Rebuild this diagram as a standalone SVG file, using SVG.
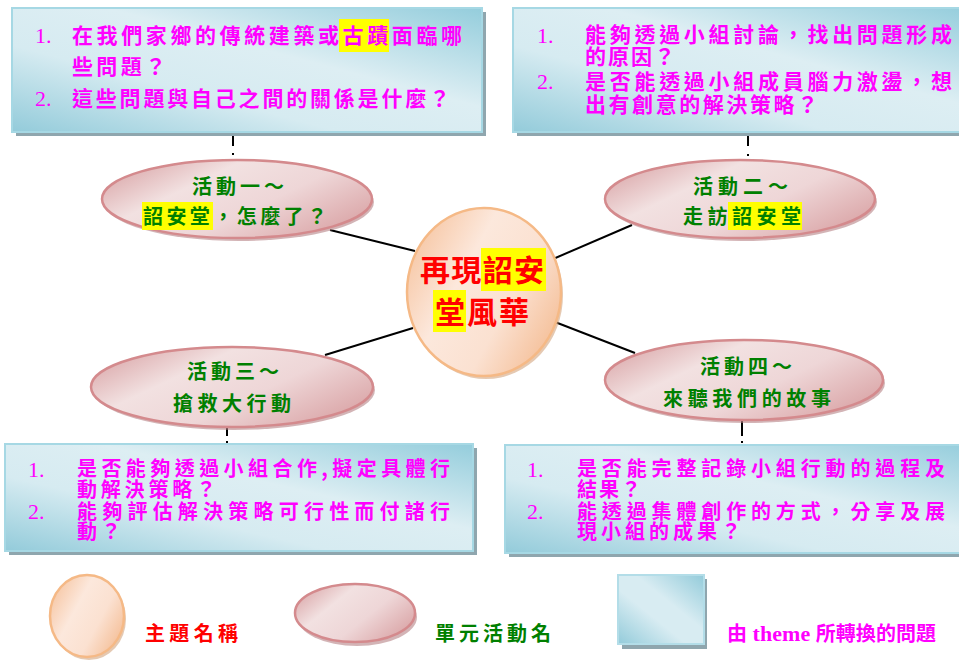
<svg xmlns="http://www.w3.org/2000/svg" width="959" height="660" viewBox="0 0 959 660">
<defs>
<linearGradient id="boxG" x1="0" y1="1" x2="1" y2="0">
<stop offset="0" stop-color="#93cbda"/>
<stop offset="0.35" stop-color="#d6ebf1"/>
<stop offset="0.6" stop-color="#ddeef3"/>
<stop offset="1" stop-color="#94cddc"/>
</linearGradient>
<linearGradient id="sqG" x1="0" y1="1" x2="1" y2="0">
<stop offset="0" stop-color="#93cbda"/>
<stop offset="0.4" stop-color="#d8ecf2"/>
<stop offset="0.6" stop-color="#d8ecf2"/>
<stop offset="1" stop-color="#93cbda"/>
</linearGradient>
<linearGradient id="pinkG" x1="0" y1="0.2" x2="1" y2="0.8">
<stop offset="0" stop-color="#dba9ab"/>
<stop offset="0.3" stop-color="#f2e1e1"/>
<stop offset="0.6" stop-color="#eed6d7"/>
<stop offset="1" stop-color="#d9a2a4"/>
</linearGradient>
<linearGradient id="orG" x1="0" y1="0.2" x2="1" y2="0.8">
<stop offset="0" stop-color="#f6c4a0"/>
<stop offset="0.35" stop-color="#fce8dc"/>
<stop offset="0.65" stop-color="#fbe1d1"/>
<stop offset="1" stop-color="#f4bc93"/>
</linearGradient>
<style>
.box{fill:url(#boxG);stroke:#a6d8e4;stroke-width:2}
.bsh{fill:#8fa6ae}
.ell{fill:url(#pinkG);stroke:#d48a8d;stroke-width:2.5}
.esh{fill:#b58285;opacity:0.6}
.ctr{fill:url(#orG);stroke:#f5b986;stroke-width:2.5}
.csh{fill:#d4a57f;opacity:0.6}
.q{font-family:"Noto Sans CJK TC","Noto Sans CJK SC",sans-serif;font-size:21px;font-weight:bold;fill:#ff00ff}
.qs{font-family:"Noto Sans CJK TC","Noto Sans CJK SC",sans-serif;font-size:20px;font-weight:bold;fill:#ff00ff}
.n{font-family:"Liberation Serif",serif;font-size:22px;fill:#ff00ff}
.g{font-family:"Noto Sans CJK TC","Noto Sans CJK SC",sans-serif;font-size:20px;font-weight:bold;fill:#008000}
.r{font-family:"Noto Sans CJK TC","Noto Sans CJK SC",sans-serif;font-size:30px;font-weight:bold;fill:#ff0000}
.lr{font-family:"Noto Sans CJK TC","Noto Sans CJK SC",sans-serif;font-size:20px;font-weight:bold;fill:#ff0000}
.lm{font-family:"Noto Sans CJK TC","Noto Sans CJK SC",sans-serif;font-size:20px;font-weight:bold;fill:#ff00ff}
.hl{fill:#ffff00}
.ln{stroke:#000;stroke-width:2;fill:none}
</style>
</defs>
<rect width="959" height="660" fill="#ffffff"/>

<g id="connectors">
<line class="ln" x1="330" y1="230" x2="415" y2="251"/>
<line class="ln" x1="553" y1="259" x2="632" y2="225"/>
<line class="ln" x1="325" y1="355" x2="413" y2="328"/>
<line class="ln" x1="555" y1="322" x2="635" y2="353"/>
<line class="ln" x1="233" y1="133" x2="233" y2="146"/>
<rect x="232" y="153" width="2" height="2" fill="#000"/>
<line class="ln" x1="748" y1="133" x2="748" y2="146"/>
<rect x="747" y="154" width="2" height="2" fill="#000"/>
<line class="ln" x1="227" y1="428" x2="227" y2="436"/>
<rect x="226" y="441" width="2" height="2" fill="#000"/>
<line class="ln" x1="742" y1="420" x2="742" y2="436"/>
<rect x="741" y="441" width="2" height="2" fill="#000"/>
</g>

<g id="q1">
<rect class="bsh" x="16" y="12" width="470" height="124"/>
<rect class="box" x="12" y="8" width="470" height="124"/>
<rect class="hl" x="339" y="19" width="50" height="33"/>
<text class="n" x="35" y="43">1.</text>
<text class="q" x="72" y="43" textLength="390" lengthAdjust="spacing">在我們家鄉的傳統建築或古蹟面臨哪</text>
<text class="q" x="72" y="74" textLength="94" lengthAdjust="spacing">些問題？</text>
<text class="n" x="35" y="106">2.</text>
<text class="q" x="72" y="106" textLength="378" lengthAdjust="spacing">這些問題與自己之間的關係是什麼？</text>
</g>

<g id="q2">
<rect class="bsh" x="517" y="12" width="460" height="124"/>
<rect class="box" x="513" y="8" width="460" height="124"/>
<text class="n" x="537" y="43">1.</text>
<text class="q" x="585" y="42" textLength="367" lengthAdjust="spacing">能夠透過小組討論，找出問題形成</text>
<text class="q" x="585" y="64" textLength="90" lengthAdjust="spacing">的原因？</text>
<text class="n" x="537" y="89">2.</text>
<text class="q" x="585" y="89" textLength="367" lengthAdjust="spacing">是否能透過小組成員腦力激盪，想</text>
<text class="q" x="585" y="112" textLength="233" lengthAdjust="spacing">出有創意的解決策略？</text>
</g>

<g id="q3">
<rect class="bsh" x="9" y="448" width="468" height="107"/>
<rect class="box" x="5" y="444" width="468" height="107"/>
<text class="n" x="28" y="477">1.</text>
<text class="qs" x="77" y="476" textLength="373" lengthAdjust="spacing">是否能夠透過小組合作,擬定具體行</text>
<text class="qs" x="77" y="497" textLength="139" lengthAdjust="spacing">動解決策略？</text>
<text class="n" x="28" y="519">2.</text>
<text class="qs" x="77" y="519" textLength="373" lengthAdjust="spacing">能夠評估解決策略可行性而付諸行</text>
<text class="qs" x="77" y="539" textLength="44" lengthAdjust="spacing">動？</text>
</g>

<g id="q4">
<rect class="bsh" x="509" y="449" width="470" height="108"/>
<rect class="box" x="505" y="445" width="470" height="108"/>
<text class="n" x="527" y="477">1.</text>
<text class="qs" x="577" y="476" textLength="368" lengthAdjust="spacing">是否能完整記錄小組行動的過程及</text>
<text class="qs" x="577" y="497" textLength="64" lengthAdjust="spacing">結果？</text>
<text class="n" x="527" y="519">2.</text>
<text class="qs" x="577" y="519" textLength="368" lengthAdjust="spacing">能透過集體創作的方式，分享及展</text>
<text class="qs" x="577" y="539" textLength="164" lengthAdjust="spacing">現小組的成果？</text>
</g>

<g id="a1">
<ellipse class="esh" cx="239" cy="202" rx="135" ry="39"/>
<ellipse class="ell" cx="237" cy="199" rx="135" ry="39"/>
<rect class="hl" x="142" y="202" width="71" height="28"/>
<text class="g" x="192" y="194" textLength="92" lengthAdjust="spacing">活動一～</text>
<text class="g" x="143" y="224" textLength="184" lengthAdjust="spacing">詔安堂，怎麼了？</text>
</g>

<g id="a2">
<ellipse class="esh" cx="742" cy="202" rx="135" ry="39"/>
<ellipse class="ell" cx="740" cy="199" rx="135" ry="39"/>
<rect class="hl" x="728" y="202" width="74" height="28"/>
<text class="g" x="693" y="194" textLength="95" lengthAdjust="spacing">活動二～</text>
<text class="g" x="683" y="224" textLength="118" lengthAdjust="spacing">走訪詔安堂</text>
</g>

<g id="a3">
<ellipse class="esh" cx="234" cy="390" rx="141" ry="40"/>
<ellipse class="ell" cx="232" cy="387" rx="141" ry="40"/>
<text class="g" x="187" y="379" textLength="92" lengthAdjust="spacing">活動三～</text>
<text class="g" x="173" y="411" textLength="118" lengthAdjust="spacing">搶救大行動</text>
</g>

<g id="a4">
<ellipse class="esh" cx="746" cy="383" rx="139" ry="40"/>
<ellipse class="ell" cx="744" cy="380" rx="139" ry="40"/>
<text class="g" x="700" y="374" textLength="92" lengthAdjust="spacing">活動四～</text>
<text class="g" x="663" y="406" textLength="168" lengthAdjust="spacing">來聽我們的故事</text>
</g>

<g id="theme">
<ellipse class="csh" cx="486" cy="295" rx="77" ry="84"/>
<ellipse class="ctr" cx="484" cy="292" rx="77" ry="84"/>
<rect class="hl" x="481" y="248" width="65" height="43"/>
<rect class="hl" x="433" y="290" width="33" height="42"/>
<text class="r" x="420" y="281" textLength="124" lengthAdjust="spacing">再現詔安</text>
<text class="r" x="435" y="323" textLength="94" lengthAdjust="spacing">堂風華</text>
</g>

<g id="legend">
<ellipse class="csh" cx="89" cy="619" rx="37" ry="41"/>
<ellipse class="ctr" cx="87" cy="616" rx="37" ry="41"/>
<text class="lr" x="145" y="641" textLength="93" lengthAdjust="spacing">主題名稱</text>
<ellipse class="esh" cx="357" cy="617" rx="60" ry="29"/>
<ellipse class="ell" cx="355" cy="613" rx="60" ry="29"/>
<text class="g" x="435" y="641" textLength="116" lengthAdjust="spacing">單元活動名</text>
<rect class="bsh" x="622" y="579" width="85" height="70"/>
<rect fill="url(#sqG)" stroke="#b3dde8" stroke-width="2" x="618" y="575" width="86" height="69"/>
<text class="lm" x="727" y="641" textLength="209" lengthAdjust="spacing">由<tspan font-family="Liberation Serif, serif" font-size="22px"> theme </tspan>所轉換的問題</text>
</g>
</svg>
